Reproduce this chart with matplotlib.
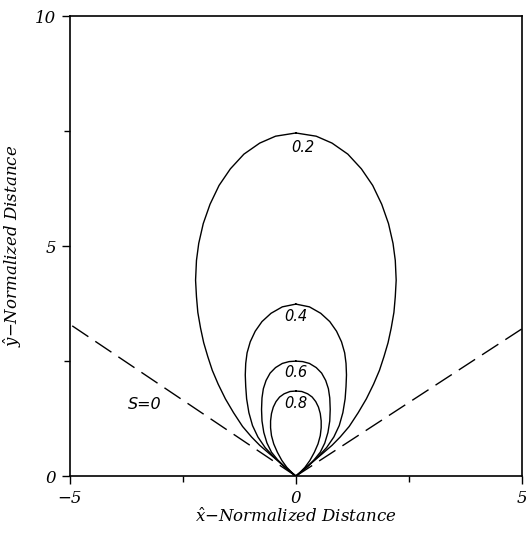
import numpy as np
import matplotlib
matplotlib.use('Agg')
import matplotlib.pyplot as plt

plt.rcParams['mathtext.fontset'] = 'dejavuserif'

# Right half of each closed contour (x, y), read from origin up to the apex.
# The left half is the mirror image.
levels = ['0.2', '0.4', '0.6', '0.8']

c02_x = [0.0, 0.15, 0.35, 0.6, 0.8, 0.98, 1.18, 1.38, 1.56, 1.72, 1.85, 1.95, 2.04,
         2.11, 2.17, 2.2, 2.22, 2.2, 2.15, 2.05, 1.9, 1.7, 1.45, 1.15, 0.8, 0.45, 0.0]
c02_y = [0.0, 0.12, 0.29, 0.5, 0.67, 0.85, 1.08, 1.38, 1.68, 2.0, 2.3, 2.6, 2.9,
         3.22, 3.56, 3.9, 4.26, 4.69, 5.06, 5.49, 5.91, 6.32, 6.68, 7.0, 7.24, 7.39, 7.46]

c04_x = [0.0, 0.12, 0.3, 0.5, 0.68, 0.84, 0.96, 1.04, 1.09, 1.11, 1.12, 1.11, 1.08,
         1.01, 0.9, 0.75, 0.55, 0.3, 0.0]
c04_y = [0.0, 0.1, 0.25, 0.43, 0.62, 0.85, 1.1, 1.38, 1.68, 1.95, 2.2, 2.45, 2.68,
         2.92, 3.15, 3.36, 3.54, 3.68, 3.74]

c06_x = [0.0, 0.1, 0.25, 0.4, 0.54, 0.64, 0.71, 0.75, 0.76, 0.75, 0.72, 0.66, 0.57,
         0.45, 0.3, 0.15, 0.0]
c06_y = [0.0, 0.08, 0.2, 0.35, 0.52, 0.72, 0.95, 1.2, 1.45, 1.7, 1.9, 2.08, 2.24,
         2.36, 2.45, 2.49, 2.5]

c08_x = [0.0, 0.08, 0.2, 0.31, 0.41, 0.49, 0.54, 0.56, 0.56, 0.54, 0.5, 0.44, 0.36,
         0.26, 0.13, 0.0]
c08_y = [0.0, 0.07, 0.19, 0.34, 0.52, 0.7, 0.88, 1.05, 1.2, 1.36, 1.5, 1.62, 1.72,
         1.79, 1.84, 1.85]

contours = [(c02_x, c02_y), (c04_x, c04_y), (c06_x, c06_y), (c08_x, c08_y)]

# label positions for the contour values
label_x = [0.15, 0.0, 0.0, 0.0]
label_y = [7.15, 3.48, 2.25, 1.58]

# S=0 boundary lines through the origin
s0_left_x = [0.0, -5.0]
s0_left_y = [0.0, 3.3]
s0_right_x = [0.0, 5.0]
s0_right_y = [0.0, 3.2]

fig = plt.figure(figsize=(5.26, 5.38), dpi=100)
ax = fig.add_axes([0.133, 0.115, 0.859, 0.855])

for cx, cy in contours:
    cx = np.asarray(cx)
    cy = np.asarray(cy)
    xs = np.concatenate([-cx[::-1], cx[1:]])
    ys = np.concatenate([cy[::-1], cy[1:]])
    ax.plot(xs, ys, color='black', lw=1.0, solid_joinstyle='round')

for lab, lx, ly in zip(levels, label_x, label_y):
    ax.text(lx, ly, lab, ha='center', va='center', fontsize=10.5,
            family='DejaVu Sans', style='oblique')

ax.plot(s0_left_x, s0_left_y, color='black', lw=1.0, dashes=(14, 6))
ax.plot(s0_right_x, s0_right_y, color='black', lw=1.0, dashes=(14, 6))
ax.text(-3.35, 1.55, 'S=0', ha='center', va='center', fontsize=11.5,
        family='DejaVu Sans', style='oblique')

ax.set_xlim(-5, 5)
ax.set_ylim(0, 10)
ax.set_xticks([-5, 0, 5])
ax.set_xticks([-2.5, 2.5], minor=True)
ax.set_yticks([0, 5, 10])
ax.set_yticks([2.5, 7.5], minor=True)
ax.set_xticklabels(['\u22125', '0', '5'])
ax.set_yticklabels(['0', '5', '10'])
ax.tick_params(which='major', direction='out', length=6, width=1, pad=4)
ax.tick_params(which='minor', direction='out', length=4, width=1)
for t in ax.get_xticklabels() + ax.get_yticklabels():
    t.set_family('DejaVu Serif')
    t.set_style('italic')
    t.set_fontsize(12)

for sp in ax.spines.values():
    sp.set_linewidth(1.2)

ax.set_xlabel(r'$\hat{x}$' + '\u2212Normalized Distance', family='DejaVu Serif',
              style='italic', fontsize=12, labelpad=1)
ax.set_ylabel(r'$\hat{y}$' + '\u2212Normalized Distance', family='DejaVu Serif',
              style='italic', fontsize=12, labelpad=8)

fig.savefig('out.png', dpi=100)
